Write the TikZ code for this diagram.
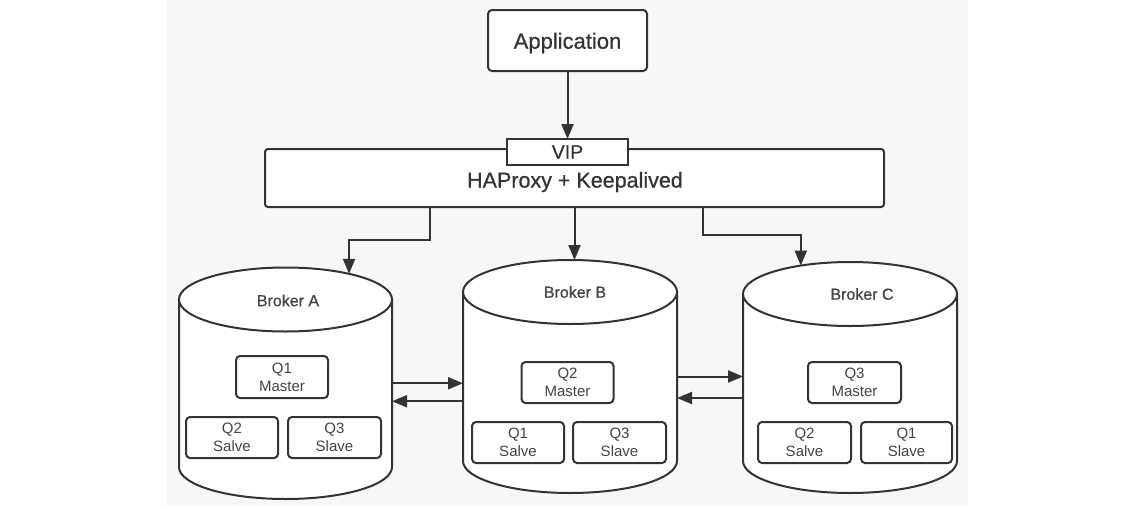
\documentclass[tikz,border=0pt]{standalone}
\usepackage{fontspec}
\setmainfont{Liberation Sans}
\newfontfamily\medfont[FakeBold=0.6]{Liberation Sans}
\usetikzlibrary{shapes.geometric,arrows.meta}
\definecolor{ln}{HTML}{333333}
\definecolor{bgc}{HTML}{F7F7F7}
\definecolor{tx}{HTML}{333333}
\definecolor{txq}{HTML}{444444}
\begin{document}
\begin{tikzpicture}[x=1pt,y=1pt,
  every node/.style={text=tx},
  arr/.style={draw=ln,line width=2pt,-{Triangle[length=15pt,width=12pt]}},
  bigbox/.style={draw=ln,line width=2pt,fill=white,inner sep=0pt,outer sep=0pt},
  qbox/.style={draw=ln,line width=2pt,fill=white,rounded corners=4pt,inner sep=0pt,outer sep=0pt,
     minimum width=92pt,minimum height=41pt,align=center,text=txq,font=\fontsize{15}{18}\selectfont},
  topface/.style={ellipse,draw=ln,line width=2pt,fill=white,inner sep=0pt,outer sep=0pt,
     minimum height=64pt},
  brk/.style={text=txq,font=\medfont\fontsize{16}{19}\selectfont},
  bodybox/.style={inner sep=0pt,outer sep=0pt},
  cyl/.style={draw=ln,line width=2pt,fill=white}
]
\useasboundingbox (0,0) rectangle (1135,-509);
\fill[white] (0,0) rectangle (1135,-509);
\fill[bgc] (167,0) rectangle (968,-505);

% top boxes
\node[bigbox,rounded corners=4pt,minimum width=159pt,minimum height=61pt] (app) at (567.5,-40.5) {};
\node[font=\medfont\fontsize{22}{26}\selectfont] (apptext) at ([yshift=-2.5pt]app.center) {Application};
\node[bigbox,rounded corners=3pt,minimum width=619pt,minimum height=58pt] (ha) at (574.5,-178) {};
\node[font=\medfont\fontsize{21.5}{25}\selectfont] (hatext) at (575,-182) {HAProxy + Keepalived};
\node[bigbox,minimum width=121pt,minimum height=26pt,font=\medfont\fontsize{19.5}{22}\selectfont] (vip) at (567.5,-152) {VIP};
\draw[arr] (app.south) -- (vip.north);

% broker bodies (invisible named nodes)
\node[bodybox,minimum width=213pt,minimum height=167.5pt] (bodyA) at (285.5,-383.25) {};
\node[bodybox,minimum width=214pt,minimum height=169pt] (bodyB) at (570,-376.5) {};
\node[bodybox,minimum width=214pt,minimum height=167pt] (bodyC) at (850,-377.5) {};

\filldraw[cyl] (bodyA.north west) -- (bodyA.south west)
  arc[start angle=180,end angle=360,x radius=106.5,y radius=32] -- (bodyA.north east) -- cycle;
\filldraw[cyl] (bodyB.north west) -- (bodyB.south west)
  arc[start angle=180,end angle=360,x radius=107,y radius=32] -- (bodyB.north east) -- cycle;
\filldraw[cyl] (bodyC.north west) -- (bodyC.south west)
  arc[start angle=180,end angle=360,x radius=107,y radius=32] -- (bodyC.north east) -- cycle;

\node[topface,minimum width=213pt] (topA) at (bodyA.north) {};
\node[topface,minimum width=214pt] (topB) at (bodyB.north) {};
\node[topface,minimum width=214pt] (topC) at (bodyC.north) {};
\node[brk] (labA) at ([xshift=2.5pt,yshift=-1pt]topA.center) {Broker A};
\node[brk] (labB) at ([xshift=5pt]topB.center) {Broker B};
\node[brk] (labC) at ([xshift=12pt]topC.center) {Broker C};

% queues
\node[qbox,minimum height=42pt] (a1) at (282,-377) {Q1\\Master};
\node[qbox] (a2) at (232,-437.5) {Q2\\Salve};
\node[qbox,minimum width=93pt] (a3) at (334.5,-437.5) {Q3\\Slave};
\node[qbox] (b2) at (567.5,-382.5) {Q2\\Master};
\node[qbox] (b1) at (518,-442.5) {Q1\\Salve};
\node[qbox,minimum width=93pt] (b3) at (619.5,-442.5) {Q3\\Slave};
\node[qbox,minimum width=93pt] (c3) at (854.5,-382.5) {Q3\\Master};
\node[qbox,minimum width=93pt] (c2) at (804.5,-442.5) {Q2\\Salve};
\node[qbox,minimum width=91pt] (c1) at (906.5,-442.5) {Q1\\Slave};

% connectors from HAProxy
\draw[arr] ([xshift=-144.5pt]ha.south) -- ++(0,-33) -| (topA.22);
\draw[arr] (ha.south) -- (ha.south |- topB.north);
\draw[arr] ([xshift=128.5pt]ha.south) -- ++(0,-28) -| (topC.150);

% links between brokers
\coordinate (ab2) at ([yshift=-18pt]bodyA.east);
\draw[arr] (bodyA.east) -- (bodyA.east -| bodyB.west);
\draw[arr] (ab2 -| bodyB.west) -- (ab2);
\coordinate (bc2) at ([yshift=-21.5pt]bodyB.east);
\draw[arr] (bodyB.east) -- (bodyB.east -| bodyC.west);
\draw[arr] (bc2 -| bodyC.west) -- (bc2);
\end{tikzpicture}
\end{document}
